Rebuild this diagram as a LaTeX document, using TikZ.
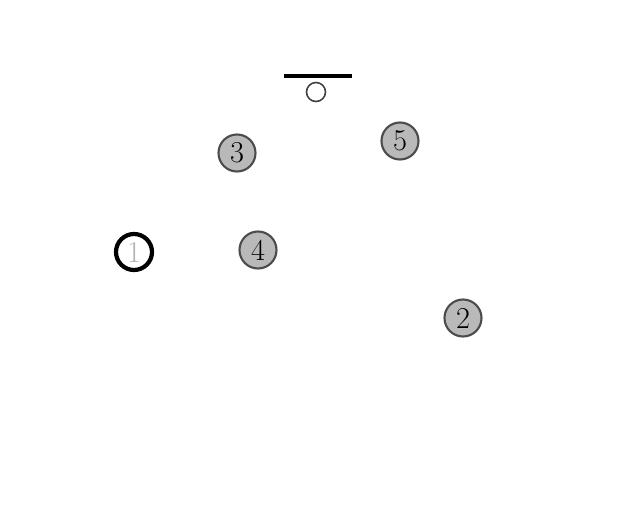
\documentclass[tikz,border=0pt]{standalone}
\usepackage{amsmath,amssymb}
\usepackage{tikz}

\begin{document}
\begin{tikzpicture}[x=0.02cm,y=-0.02cm,
  vtx/.style={circle,fill=gray!55,draw=gray!60!black,line width=1.2pt,minimum size=37*0.02cm,inner sep=0pt,font=\LARGE},
  start/.style={circle,fill=white,draw=black,line width=2.4pt,minimum size=36*0.02cm,inner sep=0pt,font=\LARGE,text=gray!60},
  hole/.style={circle,draw=gray!50!black,line width=0.9pt,minimum size=19*0.02cm,inner sep=0pt}]
\useasboundingbox (0,0) rectangle (620,518);
\node[hole] (n0) at (316,92) {};
\draw[line width=1.8pt] (284,76) -- (352,76);
\node[vtx] (n3) at (237,153) {3};
\node[vtx] (n5) at (400,141) {5};
\node[start] (n1) at (134,252) {1};
\node[vtx] (n4) at (258,250) {4};
\node[vtx] (n2) at (463,318) {2};
\end{tikzpicture}
\end{document}
